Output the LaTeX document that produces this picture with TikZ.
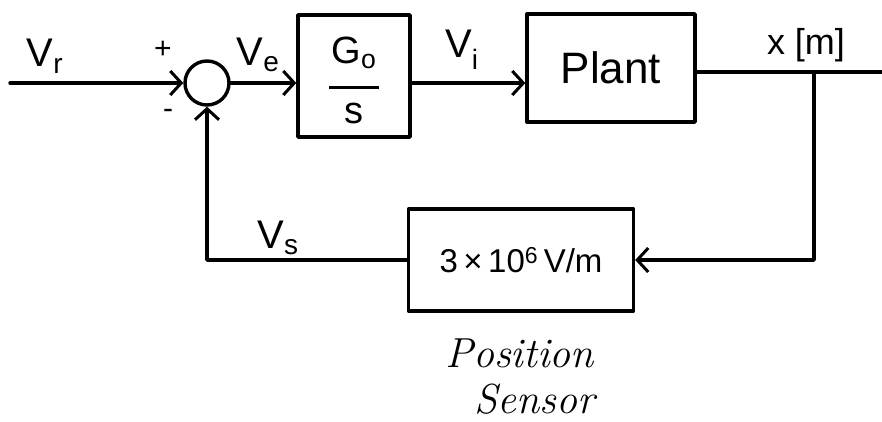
\documentclass[tikz,border=0pt]{standalone}
\usepackage{fontspec}
\newfontfamily\lab{Liberation Sans}
\usetikzlibrary{arrows.meta}
\begin{document}
\begin{tikzpicture}[x=1pt,y=-1pt, line width=3.4pt, line cap=round, line join=round,
 every node/.style={inner sep=0pt},
 blk/.style={draw, rectangle, line width=3.4pt},
 lbl/.style={font=\lab\fontsize{40}{44}\selectfont},
 arr/.style={-{Straight Barb[length=11pt,width=24pt,line width=3pt]}}
]
\useasboundingbox (0,0) rectangle (882,421);
\node[draw, circle, minimum size=44pt] (sum) at (207,83) {};
\node[blk, minimum width=112pt, minimum height=122pt] (g) at (354,76) {};
\node[font=\lab\fontsize{38}{40}\selectfont, align=center] (gtxt) at (354,80) {G\textsubscript{o}\\[-14pt]\rule{50pt}{3pt}\\[-6pt]s};
\node[blk, minimum width=168pt, minimum height=108pt, font=\lab\fontsize{44}{48}\selectfont] (plant) at (611,68) {Plant};
\node[blk, minimum width=225pt, minimum height=102pt, font=\lab\fontsize{33}{36}\selectfont] (sens) at (521,260) {3\,×\,10\textsuperscript{6}\,V/m};
\coordinate (in) at (10,83);
\coordinate (j) at (814,72);
\coordinate (out) at (882,72);
\coordinate (corner) at (sum.south |- sens.west);
% connectors
\draw[arr] (in) -- (sum.west);
\draw[arr] (sum.east) -- (sum.east -| g.west);
\draw[arr] (g.east |- sum.east) -- (plant.west |- sum.east);
\draw (plant.east |- j) -- (out);
\draw[arr] (j) -- (j |- sens.east) -- (sens.east);
\draw[arr] (sens.west) -- (corner) -- (sum.south);
% labels
\node[lbl] (vr) at (45,56) {V\textsubscript{r}};
\node[font=\lab\fontsize{30}{34}\selectfont] (plus) at (163,50) {+};
\node[font=\lab\fontsize{30}{34}\selectfont] (minus) at (168,114) {-};
\node[lbl] (ve) at (258,55) {V\textsubscript{e}};
\node[lbl] (vi) at (462,50) {V\textsubscript{i}};
\node[font=\lab\fontsize{36}{40}\selectfont] (xm) at (806,45) {x [m]};
\node[lbl] (vs) at (278,238) {V\textsubscript{s}};
\node[font=\itshape\fontsize{42}{46}\selectfont, align=left] (cap) at (520,377) {Position\\\hspace*{0.7em}Sensor};
\end{tikzpicture}
\end{document}
